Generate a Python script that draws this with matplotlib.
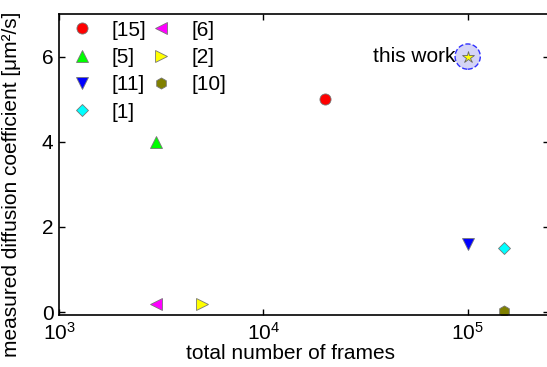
import numpy as np
import matplotlib
matplotlib.use('Agg')
import matplotlib.pyplot as plt

plt.rcParams['font.family'] = ['Liberation Sans', 'DejaVu Sans']
plt.rcParams['mathtext.fontset'] = 'custom'
plt.rcParams['mathtext.rm'] = 'Liberation Sans'

# literature values
refs = ['[15]', '[5]', '[11]', '[1]', '[6]', '[2]', '[10]']
frames = [2e4, 3e3, 1e5, 1.5e5, 3e3, 5e3, 1.5e5]
diff = [5.0, 4.0, 1.6, 1.5, 0.18, 0.18, 0.03]

# this work
our_frames = 1e5
our_diff = 6.0

markers = ['o', '^', 'v', 'D', '<', '>', 'h']
colors = ['#ff0000', '#00ff00', '#0000ff', '#00ffff', '#ff00ff', '#ffff00', '#808000']
sizes = [8, 8.5, 8.5, 6.5, 8.5, 8.5, 8]

fig = plt.figure(figsize=(5.47, 3.67), dpi=100)
ax = fig.add_axes([59/547, 1-315/367, 490/547, 301/367])

for f, d, lab, m, c, s in zip(frames, diff, refs, markers, colors, sizes):
    ax.plot(f, d, linestyle='none', marker=m, color=c, markersize=s,
            markeredgecolor='#777777', markeredgewidth=0.6, label=lab)

ax.scatter([our_frames], [our_diff], s=330, facecolor='#d4d4f6',
           edgecolor='#3030ff', linestyle='--', linewidth=1.0, zorder=3)
ax.plot(our_frames, our_diff, linestyle='none', marker='*', markersize=9,
        color='#ffff00', markeredgecolor='#666666', markeredgewidth=0.6, zorder=4)
ax.annotate('this work', (our_frames, our_diff), xytext=(-9, 0),
            textcoords='offset points', ha='right', va='center', fontsize=15)

ax.set_xscale('log')
ax.set_xlim(1e3, 2.5e5)
ax.set_ylim(-0.07, 7)
ax.set_yticks([0, 2, 4, 6])
ax.set_xticks([1e3, 1e4, 1e5])
ax.minorticks_off()
ax.tick_params(direction='in', length=4, width=1, top=True, right=True,
               labelsize=15)
ax.tick_params(axis='x', pad=5)
ax.tick_params(axis='y', pad=4)
for sp in ax.spines.values():
    sp.set_linewidth(1.2)

ax.set_xlabel('total number of frames', fontsize=15)
ax.set_ylabel('measured diffusion coefficient [μm²/s]', fontsize=15)
ax.xaxis.set_label_coords(0.472, -0.095)
ax.yaxis.set_label_coords(-0.078, 0.435)

ax.legend(loc='upper left', bbox_to_anchor=(0.008, 1.006), ncol=2,
          frameon=False, fontsize=15, handlelength=1.0, handletextpad=0.95,
          columnspacing=0.2, labelspacing=0.4, borderaxespad=0, numpoints=1)

fig.savefig('out.png', dpi=100)
